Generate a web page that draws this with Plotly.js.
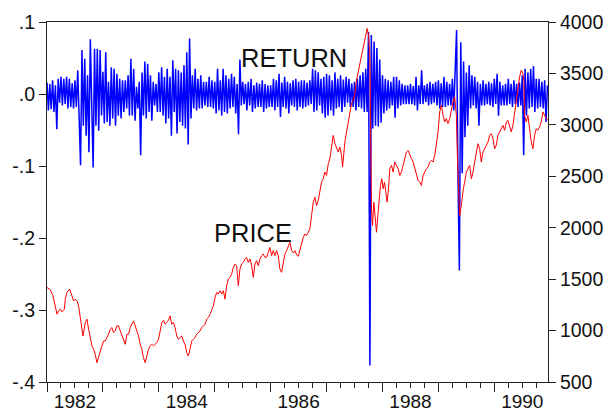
<!DOCTYPE html>
<html>
<head>
<meta charset="utf-8">
<script src="https://cdn.plot.ly/plotly-3.0.1.min.js"></script>
<style>
  html, body { margin: 0; padding: 0; background: #fff; }
  #chart { width: 608px; height: 412px; }
</style>
</head>
<body>
<div id="chart"></div>
<script>
// ---- RETURN: daily-ish log returns, 40 samples per year ----
const ret1982 = [.016,-.023,.014,-.021,.019,-.025,.012,-.049,.021,-.012,
                 .024,-.016,.021,-.014,.024,-.020,.021,-.018,.015,-.020,
                 .019,-.018,.033,-.039,-.099,.061,-.044,.049,-.058,.026,
                 -.081,.076,-.044,-.102,.063,-.044,.063,-.051,.061,-.030];
const ret1983 = [.031,-.041,.058,-.039,.017,-.044,.037,-.034,.035,-.044,
                 .028,-.030,.021,-.034,.019,-.025,.019,-.020,.026,-.030,
                 .049,-.030,.035,-.037,.010,-.020,.017,-.085,.030,-.030,
                 .045,-.034,.042,-.025,.026,-.037,.017,-.016,.014,-.025];
const ret1984 = [.030,-.025,.037,-.030,.024,-.041,.035,-.034,.024,-.058,
                 .047,-.025,.035,-.055,.033,-.039,.030,-.044,.040,-.048,
                 .058,-.070,.077,-.034,.026,-.020,.035,-.023,.021,-.020,
                 .026,-.020,.017,-.016,.017,-.018,.024,-.018,.019,-.020];
const ret1985 = [.017,-.027,.035,-.023,.019,-.030,.035,-.025,.026,-.027,
                 .021,-.020,.028,-.018,.024,-.027,.014,-.056,.048,-.016,
                 .017,-.014,.014,-.023,.017,-.016,.021,-.025,.012,-.020,
                 .016,-.018,.014,-.018,.019,-.025,.014,-.020,.012,-.018];
const ret1986 = [.012,-.018,.021,-.023,.019,-.018,.028,-.032,.016,-.018,
                 .024,-.020,.017,-.027,.015,-.016,.019,-.018,.021,-.023,
                 .017,-.018,.019,-.020,.019,-.018,.016,-.016,.019,-.014,
                 .035,-.025,.033,-.023,.030,-.016,.021,-.027,.024,-.033];
const ret1987 = [.028,-.030,.026,-.023,.019,-.030,.030,-.020,.021,-.018,
                 .026,-.025,.020,-.018,.024,-.012,.021,-.018,.015,-.018,
                 .017,-.023,.021,-.018,.026,-.020,.030,-.025,.035,-.025,
                 .086,-.377,.082,-.048,.073,-.044,.064,-.045,.048,-.040];
const ret1988 = [.026,-.027,.021,-.023,.019,-.020,.017,-.016,.024,-.033,
                 .024,-.020,.019,-.016,.014,-.014,.012,-.014,.012,-.014,
                 .014,-.014,.011,-.016,.024,-.023,.012,-.014,.033,-.014,
                 .012,-.011,.014,-.016,.017,-.014,.014,-.012,.017,-.016];
const ret1989 = [.019,-.020,.015,-.018,.024,-.018,.017,-.016,.014,-.016,
                 .021,-.023,.033,.089,-.113,-.245,.072,-.110,.045,-.060,
                 .030,-.044,.040,-.020,.026,-.016,.024,-.020,.017,-.044,
                 .014,-.016,.019,-.016,.014,-.014,.017,-.016,.015,-.018];
const ret1990 = [.021,-.014,.028,-.030,.017,-.016,.012,-.016,.014,-.016,
                 .021,-.014,.014,-.018,.019,-.014,.014,-.018,.016,-.016,
                 .026,-.085,.035,-.030,.030,-.020,.035,-.018,.039,-.025,
                 .021,-.020,.021,-.018,.017,-.020,.019,-.039,.012];
const retStartYear = 1982;
const retSamplesPerYear = 40;

// ---- PRICE: index level, [decimal year, level] ----
const pricePoints = [
 [1982.000,1419],[1982.060,1397],[1982.107,1338],[1982.149,1240],[1982.179,1159],[1982.208,1192],
 [1982.238,1208],[1982.268,1182],[1982.310,1208],[1982.327,1306],[1982.357,1371],[1982.405,1403],
 [1982.446,1338],[1982.476,1289],[1982.506,1306],[1982.536,1289],[1982.565,1240],[1982.595,1143],
 [1982.625,1029],[1982.643,948],[1982.685,1078],[1982.714,1111],[1982.744,1013],[1982.774,932],
 [1982.804,851],[1982.833,818],[1982.863,769],[1982.893,688],[1982.923,753],[1982.952,802],
 [1982.982,851],[1983.012,899],[1983.042,899],[1983.071,932],[1983.101,964],[1983.131,1013],
 [1983.161,1029],[1983.190,981],[1983.220,997],[1983.250,1046],[1983.280,1046],[1983.310,997],
 [1983.339,948],[1983.369,899],[1983.399,867],[1983.429,964],[1983.458,964],[1983.488,1029],
 [1983.518,1062],[1983.548,1094],[1983.577,1046],[1983.607,997],[1983.637,948],[1983.667,867],
 [1983.696,818],[1983.726,737],[1983.756,688],[1983.786,753],[1983.815,818],[1983.845,851],
 [1983.875,867],[1983.905,851],[1983.935,867],[1983.964,883],[1983.994,916],[1984.024,997],
 [1984.054,1078],[1984.083,1100],[1984.112,1062],[1984.142,1078],[1984.172,1100],[1984.201,1143],
 [1984.231,1062],[1984.261,1078],[1984.291,1029],[1984.320,948],[1984.350,916],[1984.380,932],
 [1984.410,948],[1984.439,899],[1984.469,867],[1984.499,786],[1984.529,753],[1984.558,818],
 [1984.588,899],[1984.618,916],[1984.648,932],[1984.677,964],[1984.707,981],[1984.737,997],
 [1984.767,1029],[1984.797,1046],[1984.826,1062],[1984.856,1111],[1984.886,1127],[1984.916,1159],
 [1984.945,1192],[1984.975,1240],[1985.005,1322],[1985.035,1371],[1985.064,1355],[1985.094,1387],
 [1985.124,1355],[1985.154,1387],[1985.183,1306],[1985.213,1436],[1985.243,1501],[1985.273,1517],
 [1985.302,1549],[1985.332,1614],[1985.362,1647],[1985.392,1631],[1985.421,1436],[1985.451,1598],
 [1985.481,1647],[1985.511,1663],[1985.540,1696],[1985.570,1712],[1985.600,1663],[1985.630,1696],
 [1985.660,1631],[1985.689,1517],[1985.719,1647],[1985.749,1679],[1985.779,1631],[1985.808,1696],
 [1985.838,1728],[1985.868,1744],[1985.898,1712],[1985.927,1712],[1985.957,1761],[1985.987,1809],
 [1986.017,1728],[1986.046,1777],[1986.076,1728],[1986.106,1777],[1986.136,1728],[1986.165,1598],
 [1986.195,1566],[1986.225,1663],[1986.255,1744],[1986.284,1777],[1986.314,1826],[1986.344,1858],
 [1986.375,1777],[1986.405,1754],[1986.434,1777],[1986.464,1735],[1986.494,1722],[1986.524,1793],
 [1986.553,1858],[1986.583,1907],[1986.613,1939],[1986.643,1923],[1986.672,1956],[1986.702,1988],
 [1986.732,2118],[1986.762,2248],[1986.791,2297],[1986.821,2216],[1986.851,2264],[1986.881,2378],
 [1986.910,2443],[1986.940,2476],[1986.970,2541],[1987.000,2508],[1987.030,2622],[1987.059,2671],
 [1987.089,2768],[1987.119,2898],[1987.149,2817],[1987.178,2768],[1987.208,2736],[1987.238,2784],
 [1987.268,2703],[1987.286,2589],[1987.297,2671],[1987.327,2833],[1987.357,2931],[1987.387,3028],
 [1987.417,3126],[1987.446,3207],[1987.476,3239],[1987.506,3304],[1987.535,3434],[1987.565,3516],
 [1987.595,3613],[1987.625,3662],[1987.655,3743],[1987.684,3824],[1987.702,3906],[1987.726,3938],
 [1987.750,3873],[1987.774,3678],[1987.803,2183],[1987.821,2021],[1987.845,2248],[1987.869,2118],
 [1987.893,1956],[1987.917,2118],[1987.940,2313],[1987.964,2411],[1987.988,2476],[1988.012,2378],
 [1988.036,2443],[1988.059,2346],[1988.083,2248],[1988.107,2378],[1988.131,2573],[1988.161,2606],
 [1988.190,2541],[1988.220,2638],[1988.250,2606],[1988.280,2573],[1988.309,2508],[1988.339,2541],
 [1988.369,2606],[1988.399,2671],[1988.428,2736],[1988.458,2752],[1988.488,2703],[1988.518,2671],
 [1988.548,2638],[1988.577,2581],[1988.607,2510],[1988.637,2460],[1988.666,2443],[1988.696,2411],
 [1988.726,2508],[1988.756,2541],[1988.785,2573],[1988.815,2589],[1988.845,2638],[1988.875,2654],
 [1988.904,2638],[1988.934,2703],[1988.964,2833],[1988.994,2931],[1989.023,3126],[1989.053,3191],
 [1989.083,3093],[1989.113,3028],[1989.142,3061],[1989.172,3012],[1989.202,3061],[1989.232,3158],
 [1989.261,3223],[1989.291,3272],[1989.321,3093],[1989.339,2703],[1989.363,2443],[1989.380,2118],
 [1989.410,2216],[1989.428,2313],[1989.446,2378],[1989.470,2443],[1989.500,2541],[1989.529,2573],
 [1989.559,2606],[1989.589,2476],[1989.619,2541],[1989.648,2638],[1989.678,2736],[1989.708,2817],
 [1989.738,2768],[1989.767,2638],[1989.797,2736],[1989.827,2768],[1989.857,2801],[1989.887,2833],
 [1989.916,2898],[1989.946,2914],[1989.976,2866],[1990.006,2768],[1990.035,2801],[1990.065,2898],
 [1990.095,2931],[1990.125,2963],[1990.154,2996],[1990.184,2947],[1990.214,3028],[1990.244,3044],
 [1990.273,2996],[1990.303,2931],[1990.333,2996],[1990.363,3126],[1990.392,3223],[1990.422,3337],
 [1990.452,3467],[1990.482,3532],[1990.511,3499],[1990.529,3418],[1990.541,3093],[1990.571,3028],
 [1990.601,3093],[1990.630,2963],[1990.660,2833],[1990.690,2768],[1990.720,2898],[1990.749,2963],
 [1990.779,2947],[1990.809,2980],[1990.839,3028],[1990.869,3126],[1990.898,3093],[1990.928,3061],
 [1990.958,3044]
];

// ---- axis ticks / labels ----
const yTickVals = [-0.4, -0.3, -0.2, -0.1, 0, 0.1];
const yTickText = ['-.4', '-.3', '-.2', '-.1', '.0', '.1'];
const y2TickVals = [500, 1000, 1500, 2000, 2500, 3000, 3500, 4000];
const xLabelVals = [1982.5, 1984.5, 1986.5, 1988.5, 1990.5];
const xLabelText = ['1982', '1984', '1986', '1988', '1990'];
const xRange = [1982, 1990.96];
const seriesNames = ['RETURN', 'PRICE'];

// ---- build traces ----
const retValues = [].concat(ret1982, ret1983, ret1984, ret1985, ret1986,
                            ret1987, ret1988, ret1989, ret1990);
const retDates = retValues.map((_, i) => retStartYear + i / retSamplesPerYear);
const priceYear = pricePoints.map(p => p[0]);
const priceValue = pricePoints.map(p => p[1]);

const FONT = 'Liberation Sans, Arial, sans-serif';
const AX = '#222';

const traces = [
  { x: retDates, y: retValues, type: 'scatter', mode: 'lines', name: seriesNames[0],
    xaxis: 'x', yaxis: 'y', line: { color: '#0000FF', width: 1.5 }, hoverinfo: 'skip' },
  { x: priceYear, y: priceValue, type: 'scatter', mode: 'lines', name: seriesNames[1],
    xaxis: 'x2', yaxis: 'y2', line: { color: '#FF0000', width: 1 }, hoverinfo: 'skip' }
];

const layout = {
  width: 608, height: 412,
  margin: { l: 47, r: 60, t: 22, b: 30, pad: 0 },
  paper_bgcolor: '#fff', plot_bgcolor: '#fff',
  showlegend: false,
  font: { family: FONT, size: 19.5, color: '#111' },
  xaxis: {
    range: xRange, tickmode: 'linear', tick0: 1982, dtick: 1,
    ticks: 'outside', ticklen: 9, tickwidth: 1, tickcolor: AX,
    showticklabels: false, showgrid: false, zeroline: false,
    showline: true, linecolor: AX, linewidth: 1, mirror: true,
    minor: { tickmode: 'linear', tick0: 1982, dtick: 0.25, ticks: 'outside',
             ticklen: 5, tickwidth: 1, tickcolor: AX, showgrid: false }
  },
  xaxis2: {
    range: xRange, overlaying: 'x', side: 'bottom', anchor: 'y2',
    tickmode: 'array', tickvals: xLabelVals, ticktext: xLabelText,
    ticks: 'outside', ticklen: 2, tickcolor: 'rgba(0,0,0,0)',
    showgrid: false, zeroline: false, showline: false,
    tickfont: { family: FONT, size: 19, color: '#111' }
  },
  yaxis: {
    range: [-0.4, 0.1], tickmode: 'array', tickvals: yTickVals, ticktext: yTickText,
    ticks: 'outside', ticklen: 7, tickwidth: 1, tickcolor: AX,
    showgrid: false, zeroline: false, showline: true, linecolor: AX, linewidth: 1,
    tickfont: { family: FONT, size: 19.5, color: '#111' }
  },
  yaxis2: {
    range: [500, 4000], tickmode: 'array', tickvals: y2TickVals,
    overlaying: 'y', side: 'right', anchor: 'x2',
    ticks: 'outside', ticklen: 7, tickwidth: 1, tickcolor: AX,
    showgrid: false, zeroline: false, showline: true, linecolor: AX, linewidth: 1,
    tickfont: { family: FONT, size: 19.5, color: '#111' }
  },
  annotations: [
    { text: seriesNames[0], x: 1986.425, y: 0.0494, xref: 'x', yref: 'y',
      showarrow: false, xanchor: 'center', yanchor: 'middle',
      font: { family: FONT, size: 25.5, color: '#111' } },
    { text: seriesNames[1], x: 1985.69, y: -0.1925, xref: 'x', yref: 'y',
      showarrow: false, xanchor: 'center', yanchor: 'middle',
      font: { family: FONT, size: 25.5, color: '#111' } }
  ]
};

Plotly.newPlot('chart', traces, layout, { staticPlot: true, displayModeBar: false });
</script>
</body>
</html>
